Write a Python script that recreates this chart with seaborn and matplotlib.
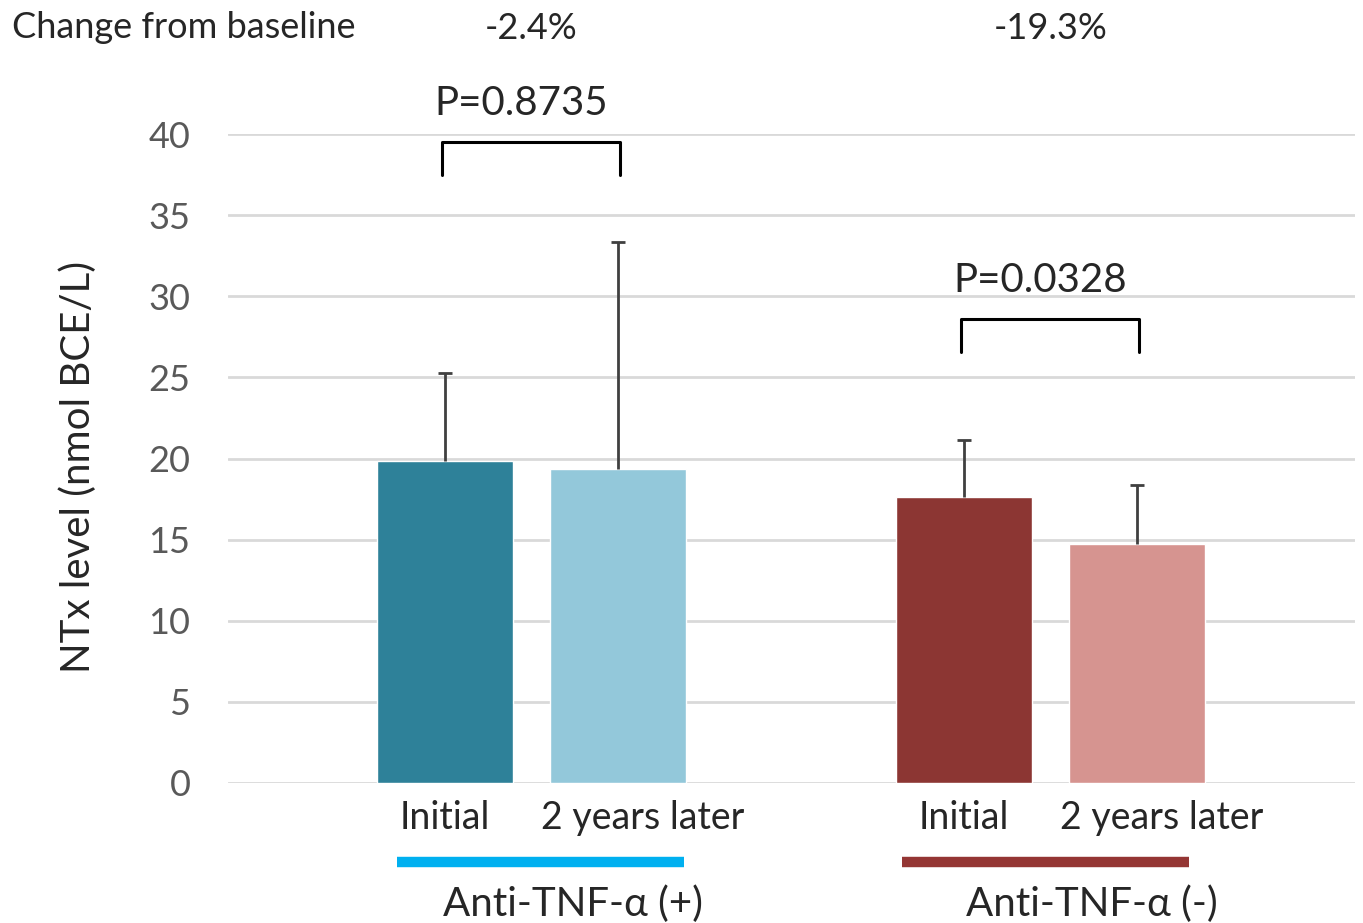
import matplotlib
matplotlib.use("Agg")
import matplotlib.pyplot as plt
import pandas as pd
import seaborn as sns

# values
groups = ["Anti-TNF-α (+)", "Anti-TNF-α (+)", "Anti-TNF-α (-)", "Anti-TNF-α (-)"]
timepoints = ["Initial", "2 years later", "Initial", "2 years later"]
means = [19.85, 19.35, 17.6, 14.7]
errors = [5.4, 14.0, 3.55, 3.65]
bar_colors = ["#2E8199", "#93C8DA", "#8C3633", "#D69490"]

group_names = ["Anti-TNF-α (+)", "Anti-TNF-α (-)"]
group_colors = ["#00B0F0", "#943634"]
changes = ["-2.4%", "-19.3%"]
p_values = ["P=0.8735", "P=0.0328"]

df = pd.DataFrame({"group": groups, "time": timepoints, "mean": means, "err": errors})
df["key"] = df["group"] + "|" + df["time"]
keys = list(df["key"])
order = keys[:2] + ["gap"] + keys[2:]

sns.set_style("white")
plt.rcParams["font.family"] = ["Lato", "DejaVu Sans"]

fig = plt.figure(figsize=(13.63, 9.23), dpi=100)
ax = fig.add_axes([0.1673, 0.1517, 0.8269, 0.7031])

sns.barplot(data=df, x="key", y="mean", hue="key", order=order,
            palette=dict(zip(keys, bar_colors)), width=0.786, dodge=False,
            errorbar=None, legend=False, ax=ax, saturation=1, zorder=2)

ax.set_xlim(-1.254, 5.26)
ax.set_ylim(0, 40)
ax.set_yticks(range(0, 41, 5))
ax.yaxis.grid(True, color="#D9D9D9", lw=2)
ax.set_axisbelow(True)
for s in ax.spines.values():
    s.set_visible(False)
ax.tick_params(axis="y", length=0, pad=27, labelsize=26, labelcolor="#595959")
ax.set_xticks([])
ax.set_xlabel("")
ax.set_ylabel("NTx level (nmol BCE/L)", fontsize=29)
ax.yaxis.set_label_coords(-0.116, 0.487)

# bar centres from the drawn patches
bars = sorted(ax.patches, key=lambda p: p.get_x())
xs = [p.get_x() + p.get_width() / 2 for p in bars]

# upper-only error bars
tops = [m + e for m, e in zip(means, errors)]
ax.vlines(xs, means, tops, color="#404040", lw=2, zorder=3)
ax.hlines(tops, [x - 0.04 for x in xs], [x + 0.04 for x in xs], color="#404040", lw=2, zorder=3)

# x labels under each bar
for x, t in zip(xs, timepoints):
    dx = 0.14 if t != "Initial" else 0
    ax.text(x + dx, -2.16, t, ha="center", va="center", fontsize=27, clip_on=False)

# group bars, names, change labels, brackets
bracket_tops = [39.5, 28.6]
line_shift = [0.05, -0.03]
for i, name in enumerate(group_names):
    x0, x1 = xs[2 * i], xs[2 * i + 1]
    c = (x0 + x1) / 2
    lc = c + line_shift[i]
    ax.plot([lc - 0.83, lc + 0.83], [-4.9, -4.9], color=group_colors[i], lw=7.5,
            solid_capstyle="butt", clip_on=False)
    ax.text(c + 0.24, -7.5, name, ha="center", va="center", fontsize=29, clip_on=False)
    ax.text(c, 46.5, changes[i], ha="center", va="center", fontsize=26, clip_on=False)
    yt = bracket_tops[i]
    ax.plot([x0 - 0.02, x0 - 0.02, x1 + 0.01, x1 + 0.01], [yt - 2.05, yt, yt, yt - 2.05],
            color="black", lw=2.2, clip_on=False)
    ax.text(c - 0.06, yt + 2.4, p_values[i], ha="center", va="center", fontsize=29, clip_on=False)

fig.text(12 / 1363, 1 - 28 / 923, "Change from baseline", ha="left", va="center", fontsize=26)

fig.savefig("out.png", dpi=100)
